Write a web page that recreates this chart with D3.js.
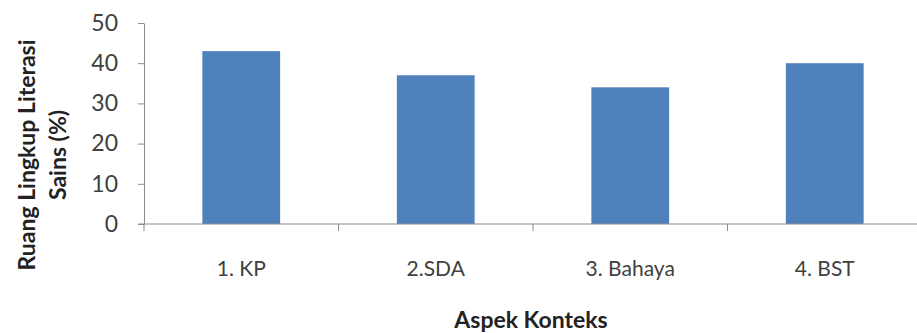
<!DOCTYPE html>
<meta charset="utf-8">
<style>
body { margin: 0; background: #fff; }
.bar { fill: #4f81bd; }
.axis path, .axis line { stroke: #8c8c8c; }
.axis text { font-family: Lato, "Open Sans", sans-serif; font-size: 21px; fill: #404040; }
.title { font-family: Lato, "Open Sans", sans-serif; font-size: 23px; font-weight: bold; fill: #222; }
</style>
<script src="https://d3js.org/d3.v7.min.js"></script>
<svg width="917" height="333"></svg>
<script>
var categories = ["1. KP", "2.SDA", "3. Bahaya", "4. BST"];
var values = [43, 37, 34, 40];
var yTicks = [0, 10, 20, 30, 40, 50];

var svg = d3.select("svg"),
    margin = {top: 23, left: 144, bottom: 109},
    width = 778,
    height = 333 - margin.top - margin.bottom;

var x = d3.scaleBand().domain(categories).range([0, width]).paddingInner(0.6).paddingOuter(0.3);
var xb = d3.scaleBand().domain(categories).range([0, width]);
var y = d3.scaleLinear().domain([0, 50]).range([height, 0]);

var g = svg.append("g").attr("transform", "translate(" + margin.left + "," + margin.top + ")");

g.selectAll(".bar")
  .data(values)
  .enter().append("rect")
    .attr("class", "bar")
    .attr("x", function(d, i) { return x(categories[i]); })
    .attr("y", function(d) { return y(d); })
    .attr("width", x.bandwidth())
    .attr("height", function(d) { return height - y(d); });

// y axis
var ya = g.append("g").attr("class", "axis")
    .call(d3.axisLeft(y).tickValues(yTicks).tickSize(6).tickPadding(20).tickSizeOuter(0));
ya.selectAll("text").style("font-size", "23px");

// x axis: ticks at category boundaries
var xa = g.append("g").attr("class", "axis").attr("transform", "translate(0," + height + ")");
xa.append("line").attr("x1", -6).attr("x2", width).attr("y1", 0).attr("y2", 0);
xa.selectAll(".bt")
  .data(categories)
  .enter().append("line")
    .attr("x1", function(d) { return xb(d); })
    .attr("x2", function(d) { return xb(d); })
    .attr("y1", 0).attr("y2", 7);
xa.selectAll(".lbl")
  .data(categories)
  .enter().append("text")
    .attr("x", function(d) { return xb(d) + xb.bandwidth() / 2; })
    .attr("y", 52)
    .attr("text-anchor", "middle")
    .text(function(d) { return d; });

svg.append("text").attr("class", "title")
    .attr("x", 531).attr("y", 328).attr("text-anchor", "middle")
    .text("Aspek Konteks");

var yt = svg.append("text").attr("class", "title")
    .attr("transform", "translate(35,155) rotate(-90)")
    .attr("text-anchor", "middle");
yt.append("tspan").attr("x", 0).attr("dy", 0).text("Ruang Lingkup Literasi");
yt.append("tspan").attr("x", 0).attr("dy", 31).text("Sains (%)");
</script>
